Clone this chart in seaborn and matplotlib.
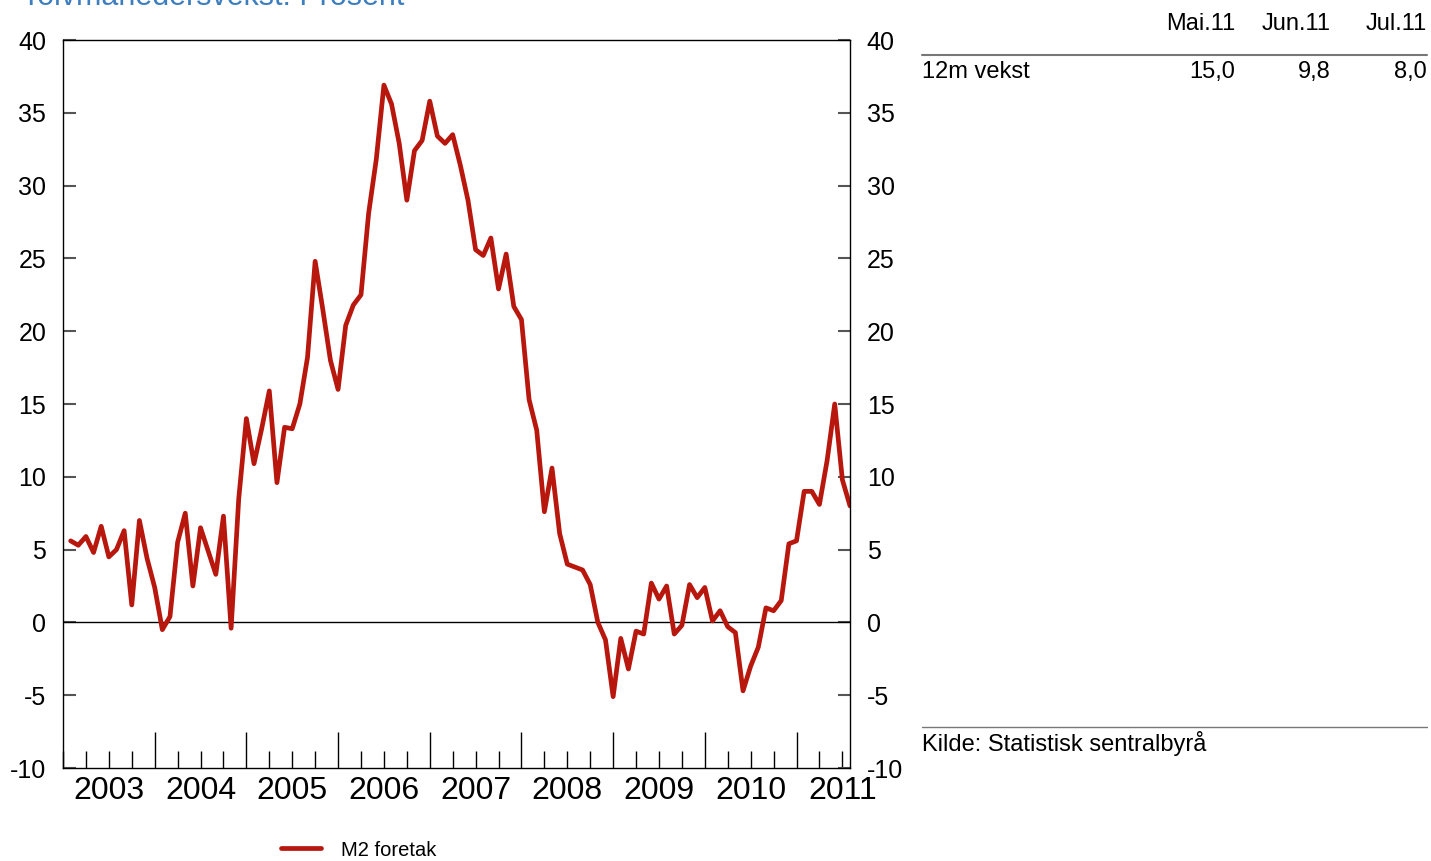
import numpy as np
import pandas as pd
import matplotlib
matplotlib.use("Agg")
from matplotlib import pyplot as plt
import matplotlib.transforms as mtransforms
import seaborn as sns

# Data: M2 foretak, 12-month growth, monthly Jan 2003 - Jul 2011
months = pd.date_range("2003-01-31", periods=103, freq="ME")
m2_foretak = [
    5.6, 5.3, 5.9, 4.8, 6.6, 4.5, 5.0, 6.3, 1.2, 7.0, 4.4, 2.4,      # 2003
    -0.5, 0.4, 5.5, 7.5, 2.5, 6.5, 4.9, 3.3, 7.3, -0.4, 8.5, 14.0,   # 2004
    10.9, 13.3, 15.9, 9.6, 13.4, 13.3, 15.0, 18.2, 24.8, 21.5, 18.0, 16.0,  # 2005
    20.4, 21.8, 22.5, 28.1, 31.8, 36.9, 35.6, 32.9, 29.0, 32.4, 33.1, 35.8,  # 2006
    33.4, 32.9, 33.5, 31.4, 29.0, 25.6, 25.2, 26.4, 22.9, 25.3, 21.7, 20.8,  # 2007
    15.3, 13.2, 7.6, 10.6, 6.1, 4.0, 3.8, 3.6, 2.6, 0.0, -1.2, -5.1,  # 2008
    -1.1, -3.2, -0.6, -0.8, 2.7, 1.6, 2.5, -0.8, -0.2, 2.6, 1.7, 2.4,  # 2009
    0.1, 0.8, -0.3, -0.7, -4.7, -3.0, -1.7, 1.0, 0.8, 1.5, 5.4, 5.6,  # 2010
    9.0, 9.0, 8.1, 11.1, 15.0, 9.8, 8.0,                              # 2011
]
series_label = "M2 foretak"

# table at the right
table_cols = ["Mai.11", "Jun.11", "Jul.11"]
table_row_label = "12m vekst"
table_vals = ["15,0", "9,8", "8,0"]

title = "Tolvmånedersvekst. Prosent"
source = "Kilde: Statistisk sentralbyrå"
year_labels = list(range(2003, 2012))

df = pd.DataFrame({"date": months, "value": m2_foretak})
df["t"] = df["date"].dt.year + df["date"].dt.month / 12.0

sns.set_style("white")
plt.rcParams["font.family"] = ["Liberation Sans", "DejaVu Sans"]
plt.rcParams["axes.unicode_minus"] = False
plt.rcParams["text.color"] = "black"

red = "#B8170D"
fig = plt.figure(figsize=(14.31, 8.61), dpi=100)
ax = fig.add_axes([63 / 1431, 1 - 768 / 861, (850 - 63) / 1431, (768 - 40) / 861])

sns.lineplot(data=df, x="t", y="value", ax=ax, color=red, linewidth=3.4,
             label=series_label, legend=False)
ax.axhline(0, color="black", linewidth=1, zorder=1)

ax.set_xlim(2003, df["t"].iloc[-1])
ax.set_ylim(-10, 40)
ax.set_yticks(np.arange(-10, 41, 5))
ax.set_xlabel("")
ax.set_ylabel("")

# x ticks: long at year boundaries, short at quarters
ax.set_xticks(year_labels[1:])
ax.set_xticks(np.arange(2003, df["t"].iloc[-1], 0.25), minor=True)
ax.set_xticklabels([])
ax.tick_params(axis="x", which="both", bottom=True, top=False)
ax.tick_params(axis="x", which="major", direction="in", length=26, width=1, color="black")
ax.tick_params(axis="x", which="minor", direction="in", length=12, width=1, color="black")
ax.tick_params(axis="y", direction="in", length=9, width=1.5, color="#555555",
               left=True, right=True, labelleft=True, labelright=True,
               labelsize=18, pad=12, labelcolor="black")

trans = mtransforms.blended_transform_factory(ax.transData, ax.transAxes)
for yr in year_labels:
    ax.text(yr + 0.5, -0.032, str(yr), transform=trans, ha="center", va="center",
            fontsize=23, color="black")

for sp in ax.spines.values():
    sp.set_color("black")
    sp.set_linewidth(1)

# title (partly cut off at the top as in the original)
fig.text(22 / 1431, 1 - 5 / 861, title, color="#3D7EBF", fontsize=22,
         ha="left", va="baseline")

# legend
handles, labels = ax.get_legend_handles_labels()
fig.legend(handles, labels, loc="center left", bbox_to_anchor=(281 / 1431, 1 - 850 / 861),
           frameon=False, fontsize=14.5, handlelength=2.0, handletextpad=1.0,
           borderpad=0, borderaxespad=0)

# table on the right
x0, x1 = 922 / 1431, 1427 / 1431
col_right = [1235 / 1431, 1331 / 1431, 1427 / 1431]
fig.add_artist(plt.Line2D([x0, x1], [1 - 55 / 861] * 2, color="#777777", linewidth=1.5))
for c, xr in zip(table_cols, col_right):
    fig.text(xr, 1 - 24 / 861, c, ha="right", va="center", fontsize=17)
fig.text(x0, 1 - 72 / 861, table_row_label, ha="left", va="center", fontsize=17)
for v, xr in zip(table_vals, col_right):
    fig.text(xr, 1 - 72 / 861, v, ha="right", va="center", fontsize=17)
fig.add_artist(plt.Line2D([x0, x1], [1 - 727 / 861] * 2, color="#777777", linewidth=1))
fig.text(x0, 1 - 743 / 861, source, ha="left", va="center", fontsize=17)

fig.savefig("out.png", dpi=100)
